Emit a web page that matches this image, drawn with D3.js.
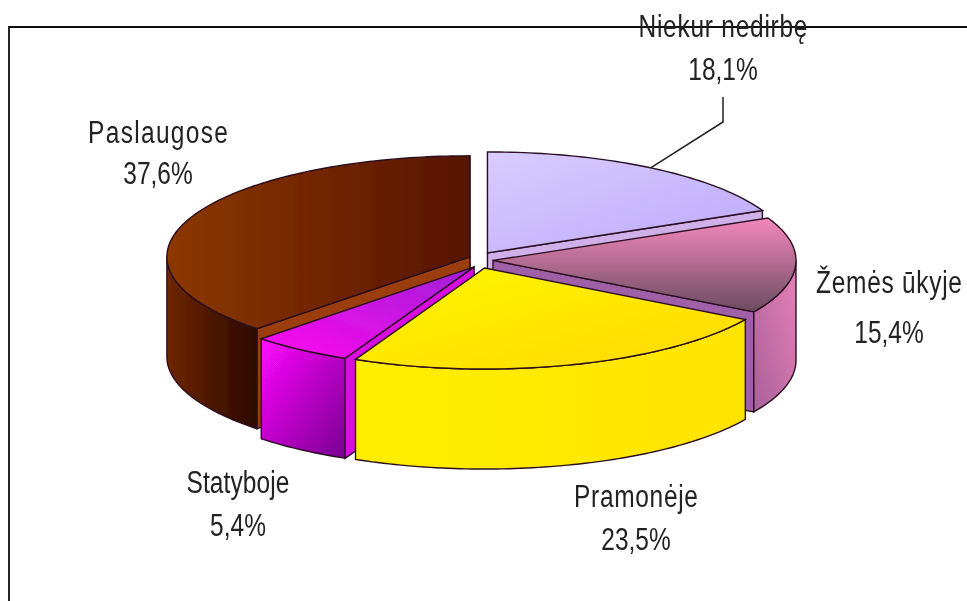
<!DOCTYPE html>
<html><head><meta charset="utf-8">
<script src="https://cdn.jsdelivr.net/npm/d3@7/dist/d3.min.js"></script>
<style>html,body{margin:0;padding:0;background:#fff;overflow:hidden}svg{display:block}</style>
</head><body><svg id="c" width="967" height="601"></svg>
<script>
const categories = ["Niekur nedirbę","Žemės ūkyje","Pramonėje","Statyboje","Paslaugose"];
const values = [18.1,15.4,23.5,5.4,37.6];
const valueLabels = ["18,1%","15,4%","23,5%","5,4%","37,6%"];
const topStart = ["#d8ccff","#f488bc","#fff600","#ff08f0","#8c3800"];
const topEnd = ["#bca8fa","#6a4c60","#ffd800","#a020d8","#561400"];
const rimStart = ["#bca8fa","#a86098","#ffee00","#ff08ff","#6e2600"];
const rimEnd = ["#bca8fa","#e880b8","#ffe400","#780090","#2c0800"];
const wallColor = ["#d0b0e8","#a060a8","#fff000","#d810e0","#9c3c08"];
const paintOrder = [4,0,1,3,2];

const W=967,H=601,cx=481,cy=260,rx=303,ry=101,depth=100,explode=12,squash=.7;
const svg=d3.select("#c");
const defs=svg.append("defs");
defs.append("filter").attr("id","soft").attr("filterUnits","userSpaceOnUse").attr("x",0).attr("y",0).attr("width",W).attr("height",H)
  .append("feGaussianBlur").attr("stdDeviation",.45);
const root=svg.append("g").attr("filter","url(#soft)");
root.append("path").attr("d",d3.line()([[9,601],[9,27],[967,27]])).attr("fill","none").attr("stroke","#111").attr("stroke-width",1.8);

const arcs=d3.pie().sort(null).value(d=>d)(values);
function pt(c,a,dz=0){return [c[0]+rx*Math.sin(a),c[1]-ry*Math.cos(a)+dz];}
function arcPts(c,a0,a1,dz=0){
  const n=Math.max(2,Math.ceil((a1-a0)/0.02));
  return d3.range(n+1).map(i=>pt(c,a0+(a1-a0)*i/n,dz));
}
const line=d3.line();
function grad(id,x1,y1,x2,y2,c1,c2){
  const g=defs.append("linearGradient").attr("id",id).attr("x1",x1).attr("y1",y1).attr("x2",x2).attr("y2",y2);
  g.append("stop").attr("offset",0).attr("stop-color",c1);
  g.append("stop").attr("offset",1).attr("stop-color",c2);
}
const topDir=[[0,0,1,1],[0,0,0,1],[0,0,1,1],[0,1,1,0],[0,0,1,0]];
const rimDir=[[0,0,1,0],[0,1,1,0],[0,0,1,0],[0,0,1,1],[0,0,1,0]];
values.forEach((v,i)=>{
  grad("t"+i,...topDir[i],topStart[i],topEnd[i]);
  grad("r"+i,...rimDir[i],rimStart[i],rimEnd[i]);
});
const stroke="#2a1020";
const sw=1.4;
paintOrder.forEach(i=>{
  const d=arcs[i],a0=d.startAngle,a1=d.endAngle,m=(a0+a1)/2;
  const c=[cx+explode*Math.sin(m),cy-explode*squash*Math.cos(m)];
  const g=root.append("g");
  const wall=a=>[c,pt(c,a),pt(c,a,depth),[c[0],c[1]+depth]];
  if(Math.sin(a0)<0) g.append("path").attr("d",line(wall(a0))+"Z").attr("fill",wallColor[i]).attr("stroke",stroke).attr("stroke-width",sw);
  if(Math.sin(a1)>0) g.append("path").attr("d",line(wall(a1))+"Z").attr("fill",wallColor[i]).attr("stroke",stroke).attr("stroke-width",sw);
  const r0=Math.max(a0,Math.PI/2),r1=Math.min(a1,3*Math.PI/2);
  if(r1>r0){
    const pts=arcPts(c,r0,r1).concat(arcPts(c,r0,r1,depth).reverse());
    g.append("path").attr("d",line(pts)+"Z").attr("fill",`url(#r${i})`).attr("stroke",stroke).attr("stroke-width",sw);
  }
  const pts=[c].concat(arcPts(c,a0,a1));
  g.append("path").attr("d",line(pts)+"Z").attr("fill",`url(#t${i})`).attr("stroke",stroke).attr("stroke-width",sw);
});
// leader line for the first slice
const ms=(arcs[0].startAngle+arcs[0].endAngle)/2;
const lc=[cx+explode*Math.sin(ms),cy-explode*squash*Math.cos(ms)];
root.append("path").attr("d",line([pt(lc,ms),[723,122],[723,97]])).attr("fill","none").attr("stroke","#222").attr("stroke-width",1.5);

const labelX=[723,889,636,238,158];
const labelY=[37,293,507,493,143];
const lineGap=[43,50,43,43,41];
const nameWidth=[169,146,124,103,140];
categories.forEach((name,i)=>{
  root.append("text").attr("transform",`translate(${labelX[i]},${labelY[i]}) scale(1,1.3)`)
    .attr("text-anchor","middle").attr("font-family","Liberation Sans").attr("font-size",24.5).attr("fill","#222")
    .attr("textLength",nameWidth[i]).attr("lengthAdjust","spacing").text(name);
  root.append("text").attr("transform",`translate(${labelX[i]},${labelY[i]+lineGap[i]}) scale(1,1.3)`)
    .attr("text-anchor","middle").attr("font-family","Liberation Sans").attr("font-size",24.5).attr("fill","#222").text(valueLabels[i]);
});
</script></body></html>
